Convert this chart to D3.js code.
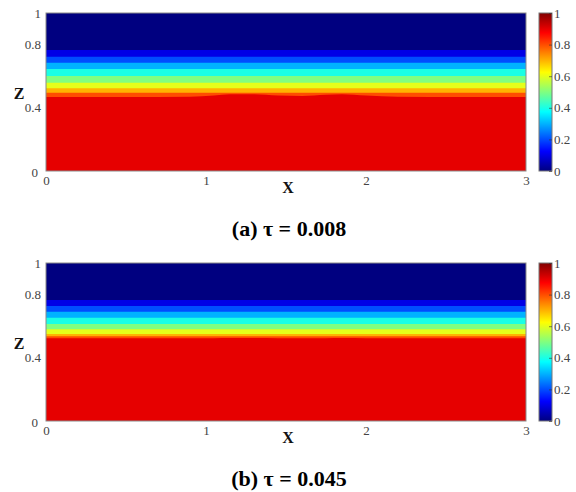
<!DOCTYPE html>
<html>
<head>
<meta charset="utf-8">
<script src="https://cdn.jsdelivr.net/npm/d3@7"></script>
<style>
  body { margin: 0; background: #fff; }
  svg { display: block; }
  svg text { font-family: "Liberation Serif", "Times New Roman", "DejaVu Serif", serif; }
</style>
</head>
<body>
<svg id="chart" width="576" height="492"></svg>
<script>
// Flood contour levels: each band starts at one of these values
const levels = [0.1, 0.2, 0.3, 0.4, 0.5, 0.6, 0.7, 0.8, 0.9];

// Height Z at which the field crosses each level, (a) tau = 0.008
const crossingA = [0.766, 0.723, 0.685, 0.646, 0.601, 0.559, 0.523, 0.496, 0.470];
// Height Z at which the field crosses each level, (b) tau = 0.045
const crossingB = [0.766, 0.728, 0.692, 0.654, 0.614, 0.580, 0.551, 0.536, 0.523];

// Stations along X where the 0.9 front is sampled
const frontX = [0, 0.5, 0.9, 1.05, 1.15, 1.3, 1.45, 1.6, 1.75, 1.85, 2.0, 2.2, 2.6, 3.0];
// Front of the 0.9 level along X
const frontA = [0.468, 0.468, 0.470, 0.478, 0.485, 0.486, 0.478, 0.475, 0.483, 0.486, 0.478, 0.470, 0.468, 0.468];
const frontB = [0.523, 0.523, 0.523, 0.524, 0.525, 0.525, 0.524, 0.523, 0.524, 0.525, 0.524, 0.523, 0.523, 0.523];

// Axis ticks
const xTicks = [0, 1, 2, 3];
const zTicks = [0, 0.4, 0.8, 1];
const barTicks = [0, 0.2, 0.4, 0.6, 0.8, 1];

const captions = ["(a) \u03c4 = 0.008", "(b) \u03c4 = 0.045"];

// Jet colour map
const jet = d3.scaleLinear()
  .domain([0, 0.125, 0.375, 0.625, 0.875, 1])
  .range(["#000080", "#0000ff", "#00ffff", "#ffff00", "#ff0000", "#800000"])
  .interpolate(d3.interpolateRgb)
  .clamp(true);

const svg = d3.select("#chart");
const serif = '"Liberation Serif", "Times New Roman", "DejaVu Serif", serif';

const defs = svg.append("defs");
const grad = defs.append("linearGradient")
  .attr("id", "jetbar")
  .attr("x1", 0).attr("y1", 1).attr("x2", 0).attr("y2", 0);
d3.range(0, 1.0001, 0.025).forEach(t => {
  grad.append("stop").attr("offset", t).attr("stop-color", jet(t));
});

const x = d3.scaleLinear().domain([0, 3]).range([46, 526]);
const z = d3.scaleLinear().domain([0, 1]).range([171, 13]);
const bar = { x: 539, w: 13 };

function styleText(sel, size, weight, color) {
  sel.style("font-family", serif)
    .style("font-size", size + "px")
    .style("font-weight", weight)
    .attr("fill", color);
}

function drawPanel(offsetY, crossing, front, caption, idx) {
  const g = svg.append("g").attr("transform", `translate(0,${offsetY})`);

  const clipId = "plotclip" + idx;
  defs.append("clipPath").attr("id", clipId)
    .append("rect")
    .attr("x", x(0)).attr("y", z(1))
    .attr("width", x(3) - x(0)).attr("height", z(0) - z(1));

  const plot = g.append("g").attr("clip-path", `url(#${clipId})`);

  // Lowest band (value 0) fills the whole domain
  plot.append("rect")
    .attr("x", x(0)).attr("y", z(1))
    .attr("width", x(3) - x(0)).attr("height", z(0) - z(1))
    .attr("fill", jet(0));

  // Each level is painted from its crossing height down to Z = 0
  levels.forEach((lv, i) => {
    const last = i === levels.length - 1;
    const pts = frontX.map((fx, j) => ({ x: fx, top: last ? front[j] : crossing[i] }));
    const area = d3.area()
      .x(d => x(d.x))
      .y0(z(0))
      .y1(d => z(d.top))
      .curve(d3.curveMonotoneX);
    plot.append("path")
      .datum(pts)
      .attr("d", area)
      .attr("fill", jet(lv));
  });

  // Plot frame
  g.append("rect")
    .attr("x", x(0)).attr("y", z(1))
    .attr("width", x(3) - x(0)).attr("height", z(0) - z(1))
    .attr("fill", "none").attr("stroke", "#8a8a8a").attr("stroke-width", 1);

  // X axis labels
  const xAxis = g.append("g")
    .attr("transform", `translate(0,${z(0)})`)
    .call(d3.axisBottom(x).tickValues(xTicks).tickSize(0).tickPadding(5).tickFormat(d3.format("d")));
  xAxis.attr("font-family", null).attr("font-size", null);
  xAxis.select(".domain").remove();
  styleText(xAxis.selectAll("text"), 13, "normal", "#444");

  // Z axis labels
  const zAxis = g.append("g")
    .attr("transform", `translate(${x(0)},0)`)
    .call(d3.axisLeft(z).tickValues(zTicks).tickSize(0).tickPadding(5).tickFormat(d => d3.format("")(d)));
  zAxis.attr("font-family", null).attr("font-size", null);
  zAxis.select(".domain").remove();
  styleText(zAxis.selectAll("text"), 13, "normal", "#444");
  zAxis.selectAll(".tick").filter(d => d === 0).select("text")
    .attr("x", -8).attr("dy", "0.45em");

  // Axis titles
  styleText(g.append("text")
    .attr("x", 288).attr("y", 193)
    .attr("text-anchor", "middle")
    .text("X"), 16, "bold", "#111");
  styleText(g.append("text")
    .attr("x", 19).attr("y", 99)
    .attr("text-anchor", "middle")
    .text("Z"), 16, "bold", "#111");

  // Colour bar
  g.append("rect")
    .attr("x", bar.x).attr("y", z(1))
    .attr("width", bar.w).attr("height", z(0) - z(1))
    .attr("fill", "url(#jetbar)")
    .attr("stroke", "#777").attr("stroke-width", 1);

  const cAxis = g.append("g")
    .attr("transform", `translate(${bar.x + bar.w},0)`)
    .call(d3.axisRight(z).tickValues(barTicks).tickSize(-3).tickPadding(2).tickFormat(d => d3.format("")(d)));
  cAxis.attr("font-family", null).attr("font-size", null);
  cAxis.select(".domain").remove();
  cAxis.selectAll("line").attr("stroke", "#333").attr("stroke-opacity", 0.6);
  styleText(cAxis.selectAll("text"), 13, "normal", "#444");

  // Caption
  styleText(g.append("text")
    .attr("x", 289).attr("y", 236)
    .attr("text-anchor", "middle")
    .text(caption), 22, "bold", "#000");
}

drawPanel(0, crossingA, frontA, captions[0], 0);
drawPanel(250, crossingB, frontB, captions[1], 1);
</script>
</body>
</html>
